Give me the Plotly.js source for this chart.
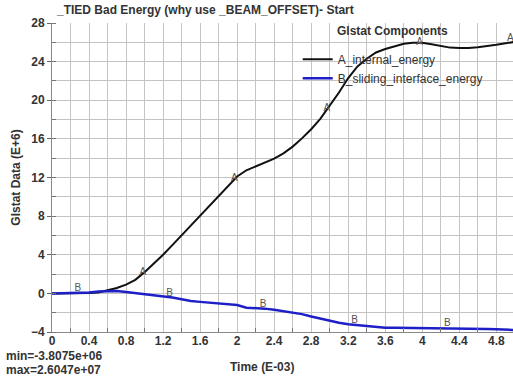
<!DOCTYPE html>
<html>
<head>
<meta charset="utf-8">
<script src="https://cdn.plot.ly/plotly-3.0.1.min.js"></script>
<style>html,body{margin:0;padding:0;background:#fff;}#chart{width:513px;height:379px;}</style>
</head>
<body>
<div id="chart"></div>
<script>
// Time (E-03)
const time = [0,0.1,0.2,0.3,0.4,0.5,0.6,0.7,0.8,0.9,1.0,1.1,1.2,1.3,1.4,1.5,1.6,1.7,1.8,1.9,2.0,2.1,2.2,2.3,2.4,2.5,2.6,2.7,2.8,2.9,3.0,3.1,3.2,3.3,3.4,3.5,3.6,3.7,3.8,3.9,4.0,4.1,4.2,4.3,4.4,4.5,4.6,4.7,4.8,4.9,5.0];
// A_internal_energy (E+6)
const internalEnergy = [0,0,0,0,0.03,0.1,0.3,0.55,0.9,1.4,2.2,3.05,4.0,5.0,6.0,7.0,8.0,9.0,10.0,11.0,12.1,12.75,13.15,13.5,13.95,14.5,15.2,16.05,17.0,18.1,19.4,20.8,22.3,23.5,24.3,24.95,25.3,25.6,25.85,25.95,25.95,25.8,25.6,25.45,25.4,25.4,25.5,25.6,25.75,25.9,26.05];
// B_sliding_interface_energy (E+6)
const slidingEnergy = [-0.02,0,0,0.02,0.1,0.2,0.25,0.25,0.15,0.05,-0.08,-0.18,-0.3,-0.42,-0.6,-0.78,-0.88,-0.95,-1.03,-1.1,-1.2,-1.48,-1.52,-1.58,-1.7,-1.83,-1.97,-2.15,-2.4,-2.63,-2.85,-3.05,-3.2,-3.3,-3.42,-3.52,-3.55,-3.55,-3.56,-3.56,-3.57,-3.58,-3.58,-3.6,-3.6,-3.62,-3.66,-3.7,-3.72,-3.75,-3.8];
// curve id letters drawn along the curves
const labelAx = [0.98,1.97,2.97,3.97,4.95];
const labelAy = [2.2,11.9,19.1,26.0,26.4];
const labelBx = [0.28,1.27,2.28,3.27,4.27];
const labelBy = [0.5,0.0,-1.1,-2.85,-3.1];
// axis ticks
const xTickStep = 0.4, xGridStep = 0.2;
const yTickStep = 4, yGridStep = 2;
// texts
const xTitle = 'Time (E-03)';
const minText = 'min=-3.8075e+06';
const maxText = 'max=2.6047e+07';

const FONT = 'Liberation Sans, Arial, sans-serif';

const traces = [
  {x: time, y: internalEnergy, name: 'A_internal_energy', type: 'scatter', mode: 'lines',
   line: {color: '#111111', width: 2}, hoverinfo: 'skip'},
  {x: time, y: slidingEnergy, name: 'B_sliding_interface_energy', type: 'scatter', mode: 'lines',
   line: {color: '#1f1fc8', width: 2.5}, hoverinfo: 'skip'},
  {x: labelAx, y: labelAy, type: 'scatter', mode: 'text', text: labelAx.map(() => 'A'),
   textfont: {family: FONT, size: 10, color: '#555'}, showlegend: false, hoverinfo: 'skip', cliponaxis: false},
  {x: labelBx, y: labelBy, type: 'scatter', mode: 'text', text: labelBx.map(() => 'B'),
   textfont: {family: FONT, size: 10, color: '#555'}, showlegend: false, hoverinfo: 'skip', cliponaxis: false}
];

const tickFont = {family: FONT, size: 12, color: '#333', weight: 'bold'};
const titleFont = {family: FONT, size: 12, color: '#333', weight: 'bold'};
const PW = 460.7, PH = 309.5, PL = 52.3, PB = 332;

const layout = {
  width: 513, height: 379,
  margin: {l: PL, r: 0, t: 22.5, b: 47, pad: 0},
  paper_bgcolor: '#ffffff', plot_bgcolor: '#ffffff',
  title: {text: '_TIED Bad Energy (why use _BEAM_OFFSET)- Start', font: titleFont,
    x: 57/513, xref: 'container', xanchor: 'left', y: 1 - 10/379, yref: 'container', yanchor: 'middle'},
  xaxis: {
    range: [0, 4.98], tickmode: 'linear', tick0: 0, dtick: xTickStep,
    showline: true, linecolor: '#888', linewidth: 1, zeroline: false,
    showgrid: true, gridcolor: '#c4c4c4', gridwidth: 1,
    ticks: '', tickfont: tickFont, ticklabelstandoff: -2,
    minor: {tickmode: 'linear', tick0: 0, dtick: xGridStep, showgrid: true, gridcolor: '#c4c4c4', gridwidth: 1,
            ticks: 'inside', ticklen: 4, tickcolor: '#777'}
  },
  yaxis: {
    range: [-4, 28], tickmode: 'linear', tick0: 0, dtick: yTickStep,
    showline: true, linecolor: '#888', linewidth: 1, zeroline: false,
    showgrid: true, gridcolor: '#c4c4c4', gridwidth: 1,
    ticks: 'outside', ticklen: 4, tickcolor: '#666', tickfont: tickFont,
    minor: {tickmode: 'linear', tick0: 0, dtick: yGridStep, showgrid: true, gridcolor: '#c4c4c4', gridwidth: 1,
            ticks: 'inside', ticklen: 4, tickcolor: '#777'},
    title: {text: 'Glstat Data (E+6)', font: titleFont, standoff: 7}
  },
  showlegend: true,
  legend: {x: 0.533, y: 0.93, xanchor: 'left', yanchor: 'top', bgcolor: 'rgba(0,0,0,0)',
    font: {family: FONT, size: 12, color: '#333'}, tracegroupgap: 0, itemclick: false},
  annotations: [
    {text: 'Glstat Components', xref: 'paper', yref: 'paper', x: (335-PL)/PW, y: (PB-31)/PH,
     xanchor: 'left', yanchor: 'middle', showarrow: false, font: titleFont},
    {text: xTitle, xref: 'paper', yref: 'paper', x: (262-PL)/PW, y: (PB-367)/PH,
     xanchor: 'center', yanchor: 'middle', showarrow: false, font: titleFont},
    {text: minText, xref: 'paper', yref: 'paper', x: (4-PL)/PW, y: (PB-356)/PH,
     xanchor: 'left', yanchor: 'middle', showarrow: false, font: titleFont},
    {text: maxText, xref: 'paper', yref: 'paper', x: (4-PL)/PW, y: (PB-370)/PH,
     xanchor: 'left', yanchor: 'middle', showarrow: false, font: titleFont}
  ]
};

Plotly.newPlot('chart', traces, layout, {displayModeBar: false, staticPlot: true});
</script>
</body>
</html>
